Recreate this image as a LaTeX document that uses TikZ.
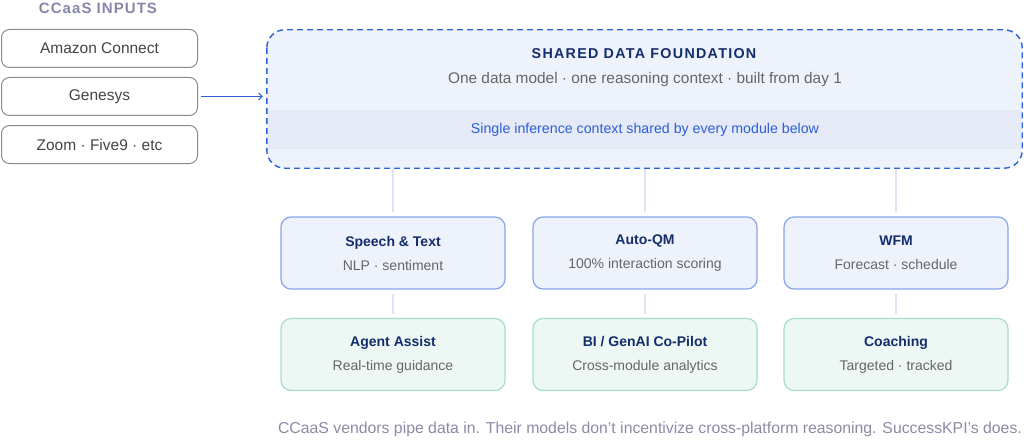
\documentclass[tikz,border=0pt]{standalone}
\usepackage{fontspec}
\setmainfont{Liberation Sans}
\usetikzlibrary{arrows.meta}
\definecolor{navy}{HTML}{142D6B}
\definecolor{subgray}{HTML}{666666}
\definecolor{ingray}{HTML}{444444}
\definecolor{inborder}{HTML}{8A8A8A}
\definecolor{headgray}{HTML}{8686A6}
\definecolor{shfill}{HTML}{EEF2FB}
\definecolor{bandfill}{HTML}{E5EAF6}
\definecolor{shborder}{HTML}{2D63D6}
\definecolor{bandblue}{HTML}{2B5FD9}
\definecolor{modblue}{HTML}{EEF2FB}
\definecolor{modblueb}{HTML}{88A4EA}
\definecolor{modgreen}{HTML}{EDF7F4}
\definecolor{modgreenb}{HTML}{A6DDCC}
\definecolor{conn}{HTML}{DDE3F3}
\definecolor{footgray}{HTML}{8B8BA6}
\begin{document}
\begin{tikzpicture}[x=1pt,y=-1pt,
  inbox/.style={draw=inborder, line width=1pt, fill=white, rounded corners=8pt,
    minimum width=196pt, minimum height=38pt, inner sep=0pt,
    text=ingray, font=\fontsize{15.5}{18}\selectfont},
  modbox/.style={line width=1.2pt, rounded corners=10pt, minimum width=224pt,
    minimum height=72pt, inner sep=0pt, align=center,
    font=\fontsize{14}{24}\selectfont},
  bluebox/.style={modbox, draw=modblueb, fill=modblue},
  greenbox/.style={modbox, draw=modgreenb, fill=modgreen},
  connline/.style={draw=conn, line width=1.5pt},
  shstyle/.style={fill=shfill, rounded corners=18pt, minimum width=755pt,
    minimum height=138pt, inner sep=0pt},
  shdash/.style={draw=shborder, line width=1.4pt, dash pattern=on 6pt off 4pt, rounded corners=18pt},
  plain/.style={inner sep=0pt}
]
\useasboundingbox (0,0) rectangle (1024,441);

% inputs
\node[plain, text=headgray, font=\fontsize{15}{16}\selectfont\bfseries\addfontfeature{LetterSpace=7}] (head) at (98,8) {CCaaS INPUTS};
\node[inbox] (amz) at (99.5,48.5) {Amazon Connect};
\node[inbox] (gen) at (99.5,96.5) {Genesys};
\node[inbox] (zoom) at (99.5,144.5) {Zoom · Five9 · etc};

% shared foundation
\node[shstyle] (sh) at (644.5,99) {};
\node[plain, fill=bandfill, minimum width=753pt, minimum height=39pt] (band) at (644.5,129.5) {};
\node[plain, text=bandblue, font=\fontsize{14.2}{16}\selectfont] (bandtxt) at (645,130) {Single inference context shared by every module below};
\path[shdash] (sh.north west) rectangle (sh.south east);
\node[plain, text=navy, font=\fontsize{14.3}{16}\selectfont\bfseries\addfontfeature{LetterSpace=9}] (shtitle) at (644,54) {SHARED DATA FOUNDATION};
\node[plain, text=subgray, font=\fontsize{15.4}{18}\selectfont] (shsub) at (645,80) {One data model · one reasoning context · built from day 1};

\coordinate (arrs) at ([xshift=3pt]gen.east);
\coordinate (arre) at ([xshift=-4pt]sh.west |- gen.east);
\draw[shborder, line width=1pt, -{Straight Barb[length=3.5pt,width=7pt]}] (arrs) -- (arre);

% modules
\node[bluebox] (speech) at (393,253) {{\bfseries\color{navy}Speech \& Text}\\{\color{subgray}NLP · sentiment}};
\node[bluebox] (qm) at (645,253) {{\bfseries\color{navy}Auto-QM}\\{\color{subgray}100\% interaction scoring}};
\node[bluebox] (wfm) at (896,253) {{\bfseries\color{navy}WFM}\\{\color{subgray}Forecast · schedule}};
\node[greenbox] (assist) at (393,354.5) {{\bfseries\color{navy}Agent Assist}\\{\color{subgray}Real-time guidance}};
\node[greenbox] (bi) at (645,354.5) {{\bfseries\color{navy}BI / GenAI Co-Pilot}\\{\color{subgray}Cross-module analytics}};
\node[greenbox] (coach) at (896,354.5) {{\bfseries\color{navy}Coaching}\\{\color{subgray}Targeted · tracked}};

\foreach \m in {speech,qm,wfm}{
  \draw[connline, shorten <=1pt, shorten >=4pt] (sh.south -| \m.north) -- (\m.north);
}
\draw[connline, shorten <=4pt, shorten >=4pt] (speech.south) -- (assist.north);
\draw[connline, shorten <=4pt, shorten >=4pt] (qm.south) -- (bi.north);
\draw[connline, shorten <=4pt, shorten >=4pt] (wfm.south) -- (coach.north);

% footer
\node[plain, text=footgray, font=\fontsize{15.8}{18}\selectfont] (foot) at (650,429) {CCaaS vendors pipe data in. Their models don't incentivize cross-platform reasoning. SuccessKPI's does.};
\end{tikzpicture}
\end{document}
